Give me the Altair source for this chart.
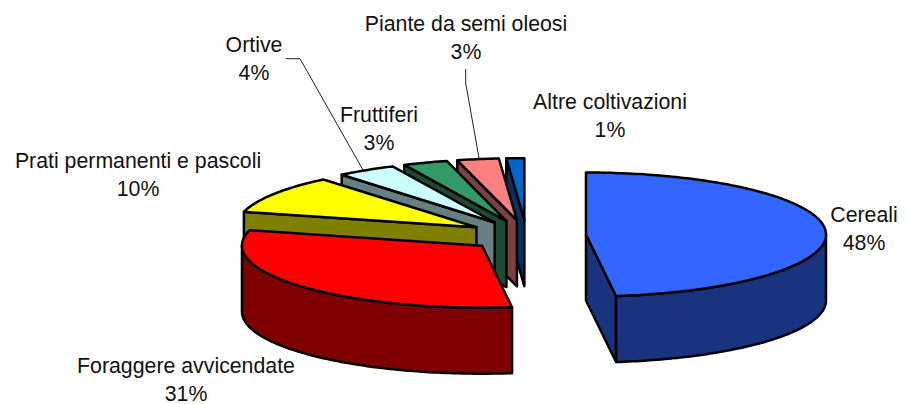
import math
import altair as alt

# ---- chart values ----
categories = ["Cereali", "Foraggere avvicendate", "Prati permanenti e pascoli", "Ortive",
              "Fruttiferi", "Piante da semi oleosi", "Altre coltivazioni"]
shares = [48, 31, 10, 4, 3, 2.8, 1.2]
top_colors = ["#3366FF", "#FF0000", "#FFFF00", "#CCFFFF", "#339966", "#FF8080", "#0066CC"]

# ---- layout (page pixels) ----
OFFSET = 8
CX, CY = 526.6, 235.5
RX, RY = 240.0, 62.0
DEPTH = 66.0
EXPLODE = 59.5
label_centres = [(864, 216), (186, 367), (138, 162), (254, 46), (379, 116), (466, 25), (610, 103)]
LINE_GAP = 27.5
leader_paths = [[(285.5, 58.7), (300, 58.7), (363, 170)], [(465.7, 69), (465.7, 83), (479, 158)]]


def darken(col):
    r, g, b = (int(col[i:i + 2], 16) for i in (1, 3, 5))
    return "#%02X%02X%02X" % (r // 2, g // 2, b // 2)


def rim(cx, cy, deg):
    a = math.radians(deg)
    return (cx + RX * math.sin(a) - OFFSET, cy - RY * math.cos(a) - OFFSET)


def poly(points, fill):
    ring = [list(p) for p in points]
    ring.append(ring[0])
    return {"type": "Feature", "geometry": {"type": "Polygon", "coordinates": [ring]},
            "properties": {"fill": fill}}


def arc_degs(a0, a1):
    n = max(2, int(abs(a1 - a0)) + 1)
    return [a0 + (a1 - a0) * i / n for i in range(n + 1)]


def slice_features(a0, a1, col):
    mid = math.radians((a0 + a1) / 2)
    cx = CX + EXPLODE * math.sin(mid)
    cy = CY - EXPLODE * (RY / RX) * math.cos(mid)
    apex = (cx - OFFSET, cy - OFFSET)
    dark = darken(col)
    down = lambda p: (p[0], p[1] + DEPTH)
    feats = []
    # cut faces that turn towards the viewer
    if a0 >= 270:
        p = rim(cx, cy, a0)
        feats.append(poly([apex, p, down(p), down(apex)], dark))
    if a1 < 180:
        p = rim(cx, cy, a1)
        feats.append(poly([apex, p, down(p), down(apex)], dark))
    # outer wall: the part of the rim on the viewer's side
    lo, hi = max(a0, 90), min(a1, 270)
    if hi > lo:
        top = [rim(cx, cy, d) for d in arc_degs(lo, hi)]
        feats.append(poly(top + [down(p) for p in reversed(top)], dark))
    # top surface
    feats.append(poly([apex] + [rim(cx, cy, d) for d in arc_degs(a0, a1)], col))
    return feats


total = sum(shares)
angles = []
acc = 0.0
for v in shares:
    angles.append((acc * 360 / total, (acc + v) * 360 / total))
    acc += v

features = []
for (a0, a1), col in reversed(list(zip(angles, top_colors))):
    features.extend(slice_features(a0, a1, col))

leaders = [{"type": "Feature",
            "geometry": {"type": "LineString",
                         "coordinates": [[x - OFFSET, y - OFFSET] for x, y in path]},
            "properties": {}} for path in leader_paths]

rows = []
for name, v, (x, y) in zip(categories, shares, label_centres):
    rows.append({"x": x - OFFSET, "y": y - OFFSET, "t": name})
    rows.append({"x": x - OFFSET, "y": y + LINE_GAP - OFFSET, "t": f"{round(v)}%"})

proj = dict(type="identity", scale=1, translate=[0, 0])

pie = alt.Chart(alt.InlineData(values=features)).mark_geoshape(
    stroke="black", strokeWidth=2.5, strokeJoin="round"
).encode(fill=alt.Fill("properties.fill:N", scale=None)).project(**proj)

lead = alt.Chart(alt.InlineData(values=leaders)).mark_geoshape(
    filled=False, stroke="#222222", strokeWidth=1
).project(**proj)

text = alt.Chart(alt.Data(values=rows)).mark_text(
    font="Liberation Sans", fontSize=21.3, color="#111111", align="center", baseline="middle"
).encode(x=alt.X("x:Q", scale=None), y=alt.Y("y:Q", scale=None), text="t:N")

chart = alt.layer(lead, pie, text).properties(
    width=890, height=398, padding=0,
    autosize=alt.AutoSizeParams(type="none"),
    background="white",
).configure_view(stroke=None)

chart.save("out.html", embed_options={"renderer": "svg", "actions": False})
